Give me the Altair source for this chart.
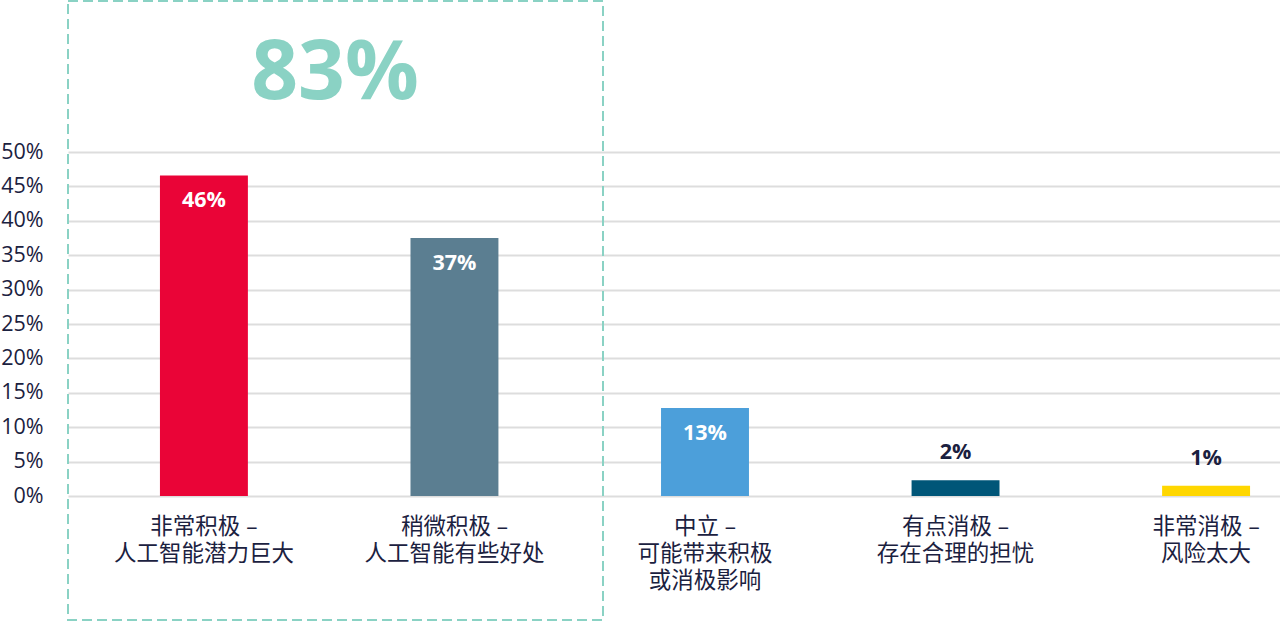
import altair as alt
import pandas as pd

categories = [
    "非常积极 –|人工智能潜力巨大",
    "稍微积极 –|人工智能有些好处",
    "中立 –|可能带来积极|或消极影响",
    "有点消极 –|存在合理的担忧",
    "非常消极 –|风险太大",
]
values = [46.6, 37.5, 12.8, 2.3, 1.5]
labels = ["46%", "37%", "13%", "2%", "1%"]
colors = ["#EA0437", "#5B7E91", "#4C9FDA", "#005678", "#FFD700"]
y_ticks = [0, 5, 10, 15, 20, 25, 30, 35, 40, 45, 50]
highlight_text = ["83%"]

df = pd.DataFrame({"cat": categories, "value": values, "label": labels})

FONT = "Open Sans, Noto Sans CJK SC, sans-serif"
NAVY = "#1b2140"
TEAL = "#8ad2c4"

xscale = alt.Scale(domain=categories, range=[0, 1274], paddingInner=0.649, paddingOuter=0.367)
yscale = alt.Scale(domain=[0, 50], nice=False)

X = alt.X("cat:N", scale=xscale, sort=categories, title=None,
          axis=alt.Axis(labelExpr="split(datum.label, '|')", labelAngle=0,
                        labelFont=FONT, labelFontSize=22.5, labelColor=NAVY,
                        labelLineHeight=27, labelPadding=19, ticks=False, labelLimit=400,
                        domain=False, grid=False, labelAlign="center"))
Y = alt.Y("value:Q", scale=yscale, title=None,
          axis=alt.Axis(values=y_ticks, tickCount=11, labelExpr="datum.value + '%'",
                        labelFont=FONT, labelFontSize=21.5, labelColor=NAVY,
                        labelPadding=25, ticks=False, domain=False, labelOverlap=False,
                        grid=True, gridColor="#dddddd", gridWidth=2))

base = alt.Chart(df)

bars = base.mark_bar().encode(
    x=X, y=Y,
    color=alt.Color("cat:N", scale=alt.Scale(domain=categories, range=colors), legend=None),
)

inside = base.transform_filter("datum.value > 5").mark_text(
    font=FONT, fontSize=21.5, fontWeight="bold", color="white", baseline="middle", dy=26
).encode(x=X, y=Y, text="label:N")

outside = base.transform_filter("datum.value <= 5").mark_text(
    font=FONT, fontSize=21.5, fontWeight="bold", color=NAVY, baseline="middle", dy=-27
).encode(x=X, y=Y, text="label:N")

box = alt.Chart(pd.DataFrame({"k": [1]})).mark_rect(
    fill=None, stroke=TEAL, strokeWidth=2, strokeDash=[10, 5]
).encode(x=alt.value(0), x2=alt.value(535), y=alt.value(-151), y2=alt.value(468))

big = alt.Chart(pd.DataFrame({"t": highlight_text})).mark_text(
    font=FONT, fontSize=82, fontWeight="bold", color=TEAL, baseline="middle", align="center"
).encode(x=alt.value(267), y=alt.value(-78), text="t:N")

chart = alt.layer(bars, inside, outside, box, big).properties(
    width=1212, height=344,
    autosize=alt.AutoSizeParams(type="none"),
    padding={"left": 68, "top": 152, "right": 0, "bottom": 127},
).configure_view(stroke=None)

chart.save("out.html", embed_options={"renderer": "svg", "actions": False})
